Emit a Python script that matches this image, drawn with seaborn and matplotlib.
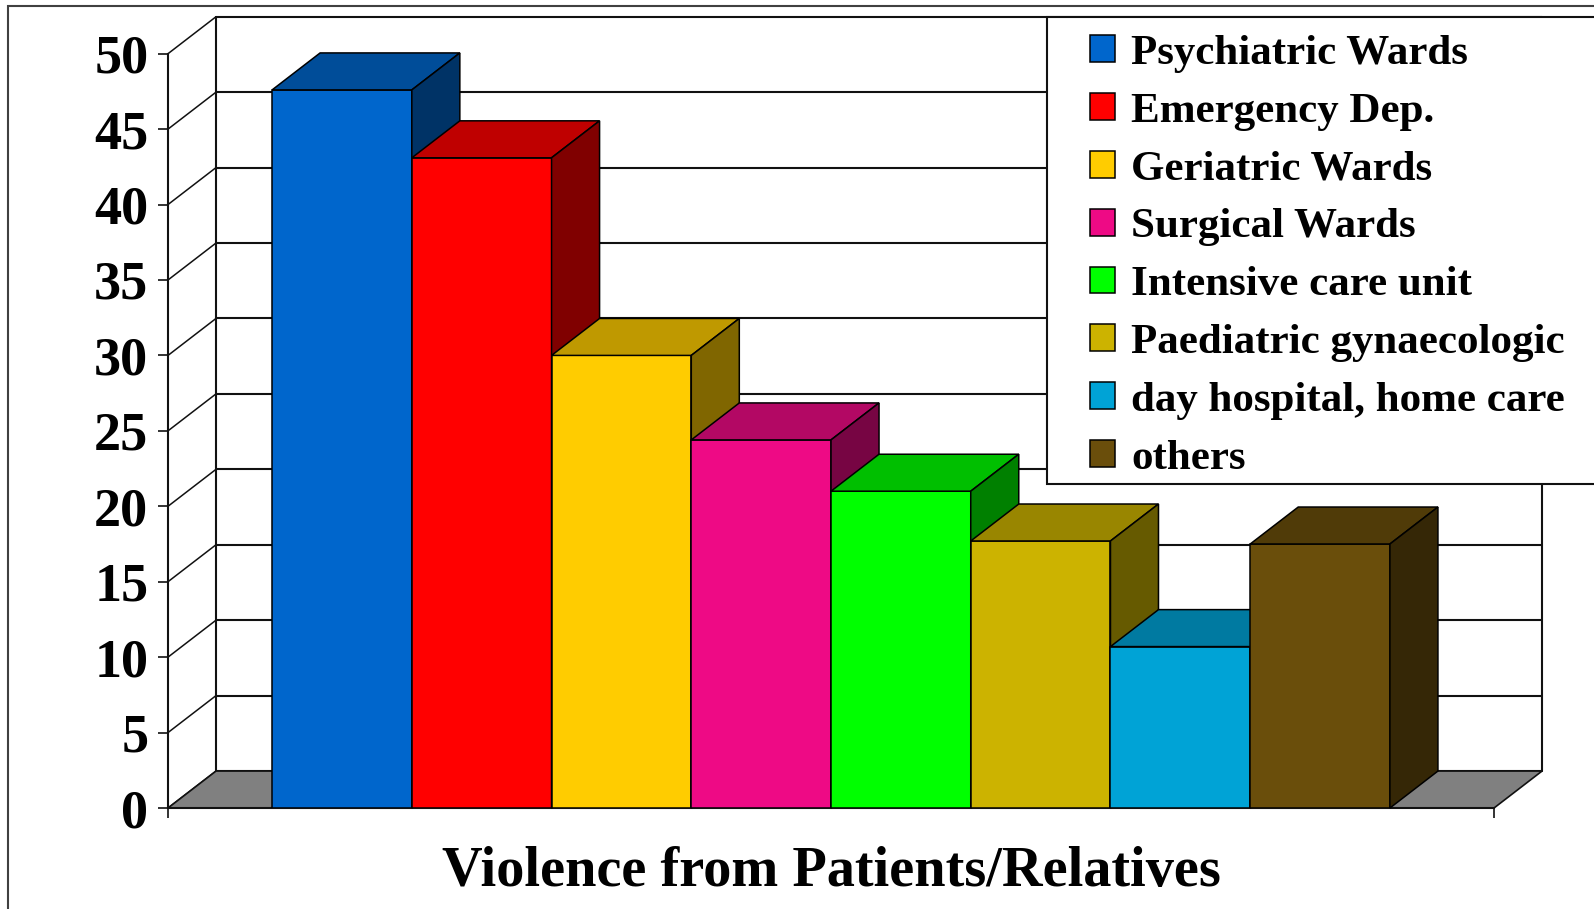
import numpy as np
import pandas as pd
import matplotlib
matplotlib.use("Agg")
import matplotlib.pyplot as plt
import seaborn as sns
from matplotlib.patches import Polygon, Rectangle, Patch
from matplotlib.colors import to_rgb

# ---- data ----
wards = ["Psychiatric Wards", "Emergency Dep.", "Geriatric Wards", "Surgical Wards",
         "Intensive care unit", "Paediatric gynaecologic", "day hospital, home care", "others"]
values = [47.6, 43.1, 30.0, 24.4, 21.0, 17.7, 10.7, 17.5]
colors = ["#0066CC", "#FF0000", "#FFCC00", "#EE0A85",
          "#00FF00", "#CCB300", "#00A3D6", "#6A4E0B"]
category = "Violence from Patients/Relatives"
y_ticks = [0, 5, 10, 15, 20, 25, 30, 35, 40, 45, 50]

# ---- pseudo-3D box geometry (data units) ----
X0, X1 = -1.245, 8.245      # front floor edge
DX, DY = 0.3436, 2.45       # depth offset of the back wall
YMAX = 50

sns.set_theme(style="white")
plt.rcParams["font.family"] = ["Liberation Serif", "DejaVu Serif"]
plt.rcParams["font.weight"] = "bold"
plt.rcParams["text.color"] = "black"
plt.rcParams["xtick.color"] = "black"
plt.rcParams["ytick.color"] = "black"
plt.rcParams["xtick.labelcolor"] = "black"
plt.rcParams["ytick.labelcolor"] = "black"

fig = plt.figure(figsize=(15.94, 9.09), dpi=100)
ax = fig.add_axes([0.1054, 0.1111, 0.8620, 0.8705])

df = pd.DataFrame({"ward": wards, "value": values})
sns.barplot(data=df, x="ward", y="value", hue="ward", order=wards, hue_order=wards,
            palette=colors, saturation=1, width=1.0, dodge=False, legend=False,
            edgecolor="black", linewidth=1.1, ax=ax)
bars = sorted(ax.patches, key=lambda p: p.get_x())

ax.set_xlim(X0, X1 + DX)
ax.set_ylim(0, YMAX + DY)

line_kw = dict(color="#111111", lw=1.5, clip_on=False, zorder=1)

# floor
floor = Polygon([(X0, 0), (X1, 0), (X1 + DX, DY), (X0 + DX, DY)],
                closed=True, facecolor="#808080", edgecolor="#111111", lw=1.2,
                zorder=1.5, clip_on=False)
ax.add_patch(floor)

# back wall gridlines and side-wall diagonals
for v in y_ticks:
    ax.plot([X0 + DX, X1 + DX], [v + DY, v + DY], **line_kw)
    ax.plot([X0, X0 + DX], [v, v + DY], color="#111111", lw=1.1, clip_on=False, zorder=1)
ax.plot([X0 + DX, X0 + DX], [DY, YMAX + DY], **line_kw)
ax.plot([X1 + DX, X1 + DX], [DY, YMAX + DY], **line_kw)

# extrude each bar: top and right side faces with Excel-style shading
for i, p in enumerate(bars):
    x0, w, h = p.get_x(), p.get_width(), p.get_height()
    base = np.array(to_rgb(p.get_facecolor()))
    p.set_zorder(3 + 3 * i)
    top = Polygon([(x0, h), (x0 + w, h), (x0 + w + DX, h + DY), (x0 + DX, h + DY)],
                  closed=True, facecolor=base * 0.75, edgecolor="black", lw=1.1,
                  zorder=4 + 3 * i, clip_on=False)
    side = Polygon([(x0 + w, 0), (x0 + w + DX, DY), (x0 + w + DX, h + DY), (x0 + w, h)],
                   closed=True, facecolor=base * 0.5, edgecolor="black", lw=1.1,
                   zorder=5 + 3 * i, clip_on=False)
    ax.add_patch(top)
    ax.add_patch(side)

# axes styling
for s in ("top", "right"):
    ax.spines[s].set_visible(False)
ax.spines["left"].set_bounds(0, YMAX)
ax.spines["bottom"].set_bounds(X0, X1)
for s in ("left", "bottom"):
    ax.spines[s].set_color("#111111")
    ax.spines[s].set_linewidth(1.5)
    ax.spines[s].set_zorder(2)

ax.set_yticks(y_ticks)
ax.set_yticklabels([str(t) for t in y_ticks])
ax.tick_params(axis="y", left=True, direction="out", length=7.2, width=1.2,
               pad=7, labelsize=39, color="#111111", labelcolor="black")
ax.set_xticks([(X0 + X1) / 2])
ax.set_xticklabels([category])
ax.set_xticks([X0, X1], minor=True)
ax.tick_params(axis="x", which="major", bottom=True, length=0, pad=27, labelsize=40.5,
               labelcolor="black")
ax.tick_params(axis="x", which="minor", bottom=True, direction="out", length=7.2,
               width=1.2, color="#111111")
ax.set_xlabel("")
ax.set_ylabel("")
ax.grid(False)
ax.patch.set_visible(False)

# outer chart border
fig.add_artist(Rectangle((8 / 1594, -0.05), 1.2, 1.05 - 6 / 909, transform=fig.transFigure,
                         fill=False, edgecolor="#404040", lw=1.5, zorder=1))

# legend box and entries
fig.add_artist(Rectangle((1047 / 1594, 1 - 484 / 909), 0.5, (484 - 17) / 909,
                         transform=fig.transFigure, facecolor="white",
                         edgecolor="#111111", lw=1.5, zorder=2))
handles = [Patch(facecolor=c, edgecolor="black", lw=1.1) for c in colors]
fig.legend(handles, wards, loc="upper left", bbox_to_anchor=(1090 / 1594, 1 - 35 / 909),
           frameon=False, fontsize=31, handlelength=0.58, handleheight=0.58,
           handletextpad=0.37, labelspacing=0.46, borderpad=0, borderaxespad=0,
           labelcolor="black")

fig.savefig("out.png", dpi=100)
